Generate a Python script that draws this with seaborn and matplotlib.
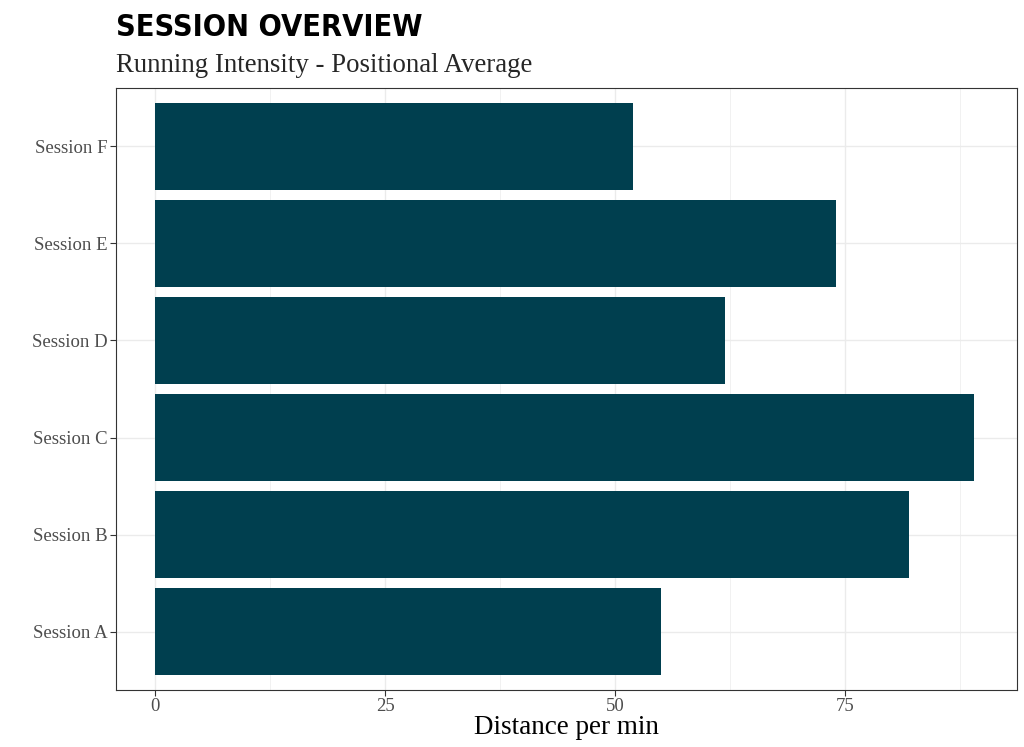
import matplotlib
matplotlib.use('Agg')
import pandas as pd
import matplotlib.pyplot as plt
import seaborn as sns
from matplotlib.ticker import MultipleLocator

# Dữ liệu
sessions = ['Session A', 'Session B', 'Session C', 'Session D', 'Session E', 'Session F']
distance = [55, 82, 89, 62, 74, 52]
x_ticks = [0, 25, 50, 75]

df = pd.DataFrame({'session': sessions, 'distance': distance})

sns.set_style('white')
plt.rcParams['font.family'] = ['Liberation Serif', 'DejaVu Serif']

fig = plt.figure(figsize=(10.24, 7.47), dpi=100)
ax = fig.add_axes([0.1133, 0.0763, 0.8799, 0.8059])

sns.barplot(data=df, x='distance', y='session', order=sessions[::-1],
            color='#003f4f', saturation=1, width=0.9, linewidth=0, ax=ax)

ax.set_xlim(-4.24, 93.7)
ax.set_ylim(5.6, -0.6)
ax.set_xticks(x_ticks)
ax.xaxis.set_minor_locator(MultipleLocator(12.5))
ax.grid(True, which='major', color='#ebebeb', linewidth=1.0)
ax.grid(True, which='minor', axis='x', color='#ebebeb', linewidth=0.5)
ax.set_axisbelow(True)
for s in ax.spines.values():
    s.set_color('#333333')
    s.set_linewidth(0.8)

ax.tick_params(axis='both', which='major', bottom=True, left=True, length=4, width=0.8,
               color='#333333', labelsize=13.5, labelcolor='#4d4d4d', pad=2)
ax.tick_params(axis='x', which='minor', length=0)
ax.set_ylabel('')
ax.set_xlabel('Distance per min', fontsize=19.5, color='black', labelpad=0)

# Tiêu đề
fig.text(0.1133, 0.944, 'SESSION OVERVIEW', fontsize=22, fontweight='bold',
         family=['DejaVu Sans'], fontstretch='condensed', color='black',
         va='bottom', ha='left')
fig.text(0.1133, 0.895, 'Running Intensity - Positional Average', fontsize=19.3,
         va='bottom', ha='left')

plt.savefig('out.png', dpi=100)
plt.close()
